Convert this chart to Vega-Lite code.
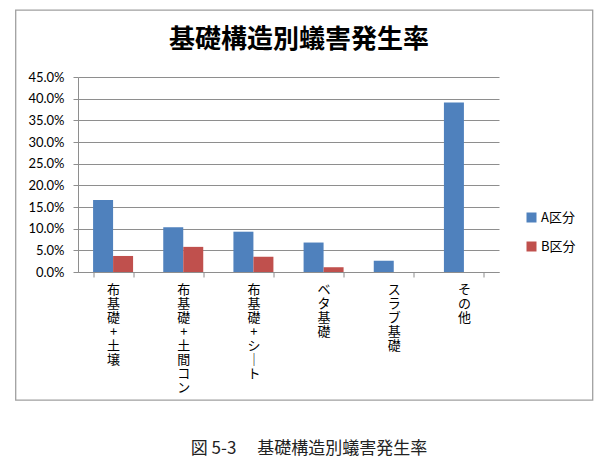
{
  "$schema": "https://vega.github.io/schema/vega-lite/v6.json",
  "description": "基礎構造別蟻害発生率 (A区分 / B区分)",
  "width": 577,
  "height": 390,
  "autosize": {"type": "none"},
  "padding": {"left": 15.5, "top": 10, "right": 15.5, "bottom": 61},
  "background": "white",
  "data": {
    "values": [
      {"構造": "布基礎+土壌", "区分": "A区分", "率": 0.166},
      {"構造": "布基礎+土壌", "区分": "B区分", "率": 0.037},
      {"構造": "布基礎+土間コン", "区分": "A区分", "率": 0.103},
      {"構造": "布基礎+土間コン", "区分": "B区分", "率": 0.058},
      {"構造": "布基礎+シート", "区分": "A区分", "率": 0.093},
      {"構造": "布基礎+シート", "区分": "B区分", "率": 0.035},
      {"構造": "ベタ基礎", "区分": "A区分", "率": 0.068},
      {"構造": "ベタ基礎", "区分": "B区分", "率": 0.011},
      {"構造": "スラブ基礎", "区分": "A区分", "率": 0.026},
      {"構造": "スラブ基礎", "区分": "B区分", "率": 0},
      {"構造": "その他", "区分": "A区分", "率": 0.391},
      {"構造": "その他", "区分": "B区分", "率": 0}
    ]
  },
  "mark": {"type": "bar"},
  "encoding": {
    "x": {
      "field": "構造",
      "type": "nominal",
      "sort": ["布基礎+土壌", "布基礎+土間コン", "布基礎+シート", "ベタ基礎", "スラブ基礎", "その他"],
      "scale": {"range": [62.5, 483.5], "paddingInner": 0.43, "paddingOuter": 0.215},
      "axis": {
        "title": "図 5-3　 基礎構造別蟻害発生率",
        "orient": "bottom",
        "offset": -128,
        "grid": false,
        "tickBand": "extent",
        "tickSize": 5,
        "tickColor": "#8e8e8e",
        "domainColor": "#8e8e8e",
        "labelAngle": 0,
        "labelExpr": "split(replace(datum.label, 'ー', '｜'), '')",
        "labelFont": "Noto Sans CJK JP",
        "labelFontSize": 13,
        "labelLineHeight": 14,
        "labelColor": "black",
        "labelPadding": 6,
        "labelBaseline": "top",
        "titleFont": "Noto Sans CJK JP",
        "titleFontSize": 17,
        "titleFontWeight": "normal",
        "titleColor": "#222222",
        "titleX": 293,
        "titleY": 176,
        "titleAlign": "center",
        "titleBaseline": "middle"
      }
    },
    "xOffset": {"field": "区分", "type": "nominal", "sort": ["A区分", "B区分"], "scale": {"paddingInner": 0, "paddingOuter": 0}},
    "y": {
      "field": "率",
      "type": "quantitative",
      "scale": {"domain": [0, 0.45], "range": [262, 67], "nice": false},
      "axis": {
        "title": "基礎構造別蟻害発生率",
        "titleFont": "Noto Sans CJK JP",
        "titleFontSize": 26,
        "titleFontWeight": "bold",
        "titleColor": "black",
        "titleAngle": 0,
        "titleX": 220.5,
        "titleY": 29,
        "titleAlign": "center",
        "titleBaseline": "middle",
        "orient": "left",
        "offset": -62.5,
        "format": ".1%",
        "values": [0, 0.05, 0.1, 0.15, 0.2, 0.25, 0.3, 0.35, 0.4, 0.45],
        "grid": true,
        "gridColor": "#8e8e8e",
        "gridOpacity": 1,
        "tickSize": 5,
        "tickColor": "#8e8e8e",
        "domainColor": "#8e8e8e",
        "labelFont": "Lato",
        "labelFontSize": 13,
        "labelColor": "black",
        "labelPadding": 9
      }
    },
    "color": {
      "field": "区分",
      "type": "nominal",
      "scale": {"domain": ["A区分", "B区分"], "range": ["#4F81BD", "#C0504D"]},
      "legend": {
        "title": null,
        "orient": "none",
        "legendX": 509.5,
        "legendY": 201,
        "symbolType": "square",
        "symbolSize": 100,
        "symbolStrokeWidth": 0,
        "symbolOpacity": 1,
        "labelFont": "Noto Sans CJK JP",
        "labelFontSize": 13,
        "labelColor": "black",
        "labelOffset": 3,
        "rowPadding": 15
      }
    }
  },
  "config": {
    "view": {"stroke": "#a0a0a0", "strokeWidth": 1.3}
  }
}
